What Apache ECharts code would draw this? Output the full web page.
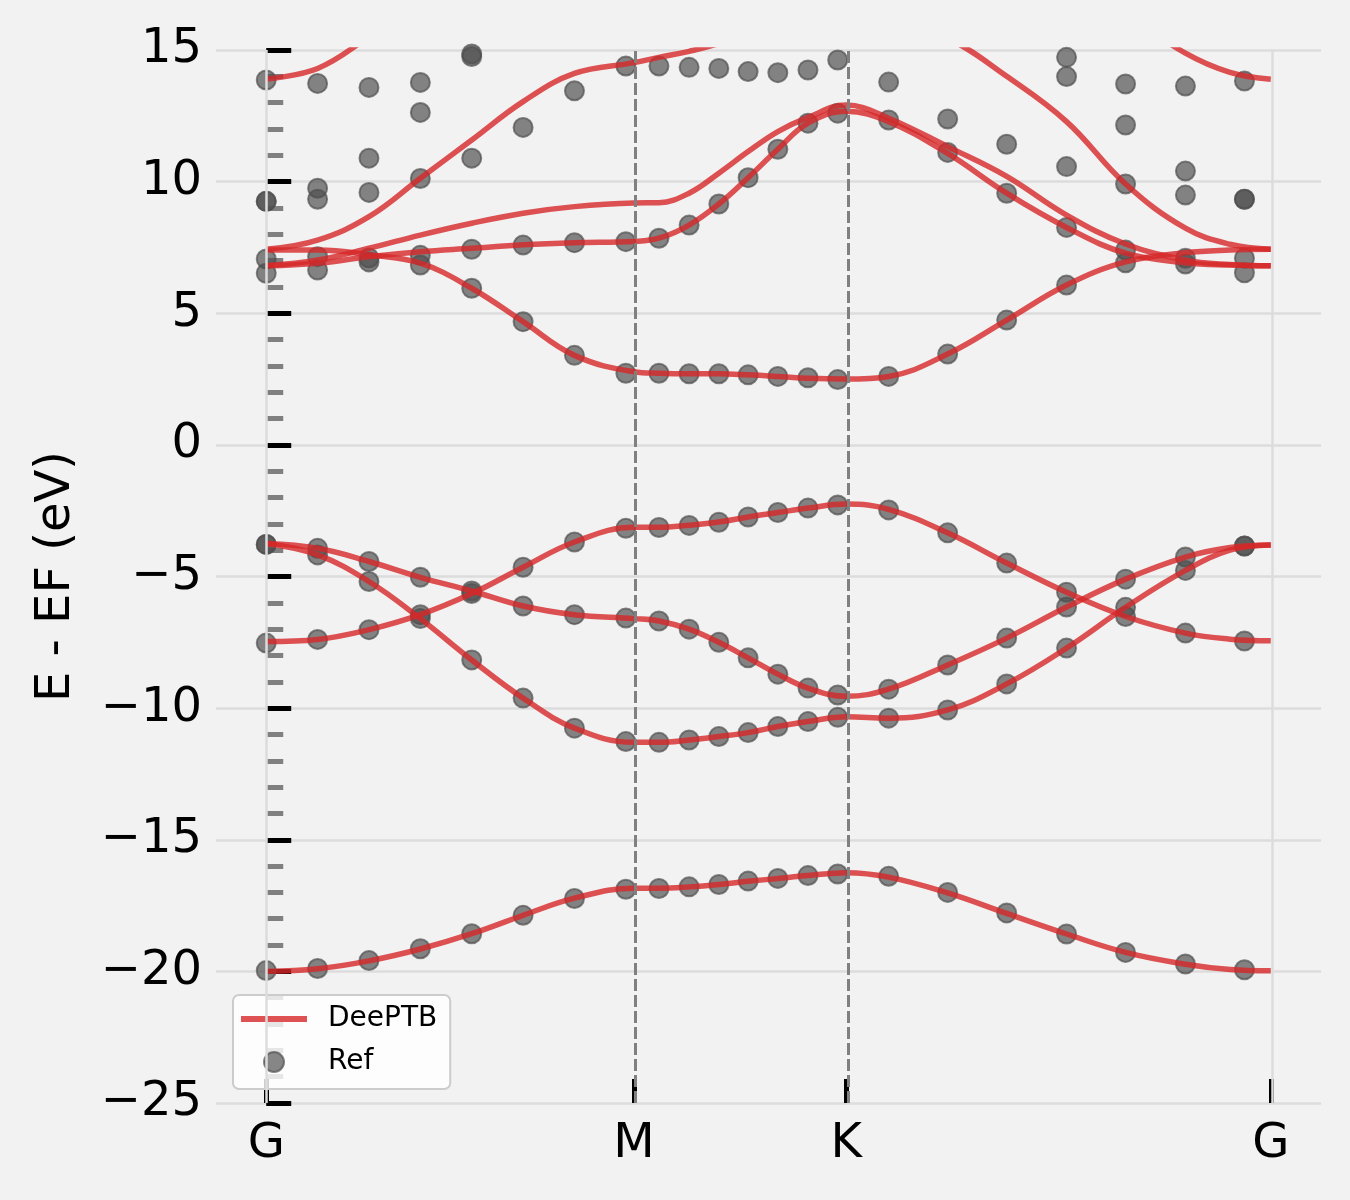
<!DOCTYPE html>
<html>
<head>
<meta charset="utf-8">
<title>Band structure</title>
<script src="https://cdn.jsdelivr.net/npm/echarts@6/dist/echarts.min.js"></script>
<style>
  html, body { margin: 0; padding: 0; background: #f2f2f2; }
  #myChart { width: 1350px; height: 1200px; }
</style>
</head>
<body>
<div id="myChart"></div>
<script>
// high symmetry points of the k path
const kTicks = [0, 0.866, 1.366, 2.366];
const kLabels = ['G', 'M', 'K', 'G'];

// k positions where the DeePTB curves were read
const lineK = [0, 0.121, 0.242, 0.363, 0.484, 0.605, 0.726, 0.866, 0.925, 0.996, 1.066, 1.135,
  1.205, 1.276, 1.366, 1.466, 1.605, 1.744, 1.885, 2.024, 2.165, 2.27, 2.366];

// DeePTB bands (eV)
const band1 = [-20.0, -19.9, -19.6, -19.15, -18.57, -17.87, -17.22, -16.84, -16.84, -16.79, -16.7, -16.58,
  -16.47, -16.36, -16.25, -16.42, -17.02, -17.8, -18.58, -19.28, -19.73, -19.93, -19.98];
const band2 = [-7.47, -7.39, -7.02, -6.45, -5.65, -4.65, -3.69, -3.13, -3.13, -3.05, -2.93, -2.74,
  -2.57, -2.4, -2.25, -2.45, -3.34, -4.49, -5.6, -6.52, -7.15, -7.38, -7.44];
const band3 = [-3.75, -3.93, -4.43, -5.03, -5.55, -6.12, -6.45, -6.6, -6.69, -7.0, -7.5, -8.09,
  -8.71, -9.24, -9.55, -9.28, -8.36, -7.34, -6.16, -5.1, -4.26, -3.9, -3.8];
const band4 = [-3.75, -4.18, -5.19, -6.6, -8.17, -9.62, -10.76, -11.3, -11.3, -11.21, -11.08, -10.93,
  -10.7, -10.51, -10.33, -10.38, -10.07, -9.08, -7.72, -6.17, -4.77, -4.0, -3.8];
const band5 = [7.4, 7.4, 7.22, 6.9, 5.95, 4.68, 3.4, 2.78, 2.72, 2.7, 2.7, 2.66,
  2.6, 2.53, 2.5, 2.6, 3.45, 4.74, 6.07, 6.95, 7.3, 7.4, 7.43];
const band6 = [6.8, 6.9, 7.15, 7.34, 7.47, 7.6, 7.68, 7.73, 7.85, 8.35, 9.15, 10.15,
  11.23, 12.22, 12.67, 12.28, 11.07, 9.56, 8.26, 7.28, 6.92, 6.83, 6.8];
const band7 = [6.8, 7.02, 7.47, 7.97, 8.42, 8.8, 9.05, 9.19, 9.2, 9.56, 10.32, 11.14,
  11.9, 12.44, 12.91, 12.41, 11.33, 10.2, 8.73, 7.63, 7.02, 6.85, 6.8];
const band8 = [7.43, 7.78, 8.67, 10.13, 11.58, 13.04, 14.11, 14.52, 14.72, 14.95, 15.25, 15.7,
  16.0, 16.2, 16.3, 16.2, 15.45, 14.0, 12.28, 9.91, 8.23, 7.62, 7.43];
const band9 = [13.9, 14.3, 15.5, 16.8, null, null, null, null, null, null, null, null,
  null, null, null, null, null, null, null, null, null, null, null];
const band10 = [null, null, null, null, null, null, null, null, null, null, null, null,
  null, null, null, null, null, null, null, 16.4, 14.88, 14.15, 13.89];

// k positions of the reference points
const refK = [0, 0.121, 0.242, 0.363, 0.484, 0.605, 0.726, 0.847, 0.925, 0.996, 1.066,
  1.135, 1.205, 1.276, 1.346, 1.466, 1.605, 1.744, 1.885, 2.024, 2.165, 2.304];

// reference eigenvalues (eV), one row per band, null = off the chart
const ref1 = [-19.97, -19.89, -19.59, -19.14, -18.57, -17.87, -17.23, -16.88, -16.85, -16.79, -16.7,
  -16.57, -16.47, -16.36, -16.3, -16.39, -17.0, -17.78, -18.58, -19.28, -19.72, -19.94];
const ref2 = [-7.53, -7.39, -7.02, -6.6, -8.17, -9.62, -10.76, -11.27, -11.3, -11.21, -11.08,
  -10.93, -10.7, -10.51, -10.35, -10.38, -10.07, -9.08, -7.72, -6.52, -7.15, -7.45];
const ref3 = [-3.78, -4.18, -5.19, -6.45, -5.65, -6.12, -6.45, -6.58, -6.69, -7.0, -7.5,
  -8.09, -8.71, -9.24, -9.5, -9.28, -8.36, -7.34, -6.16, -6.17, -4.77, -3.84];
const ref4 = [-3.78, -3.93, -4.43, -5.03, -5.55, -4.65, -3.69, -3.17, -3.14, -3.06, -2.94,
  -2.74, -2.57, -2.4, -2.28, -2.47, -3.34, -4.49, -5.6, -5.1, -4.26, -3.84];
const ref5 = [6.52, 6.64, 6.95, 6.83, 5.95, 4.68, 3.4, 2.72, 2.72, 2.7, 2.7,
  2.66, 2.6, 2.55, 2.48, 2.6, 3.45, 4.74, 6.07, 6.92, 6.87, 6.54];
const ref6 = [7.06, 7.15, 7.1, 7.2, 7.43, 7.59, 7.68, 7.72, 7.85, 8.35, 9.15,
  10.15, 11.23, 12.22, 12.6, 12.34, 11.11, 9.56, 8.26, 7.4, 7.09, 7.09];
const ref7 = [9.25, 9.33, 9.59, 10.12, 10.89, 12.06, 13.45, 14.39, 14.39, 14.34, 14.3,
  14.18, 14.14, 14.24, 14.62, 13.78, 12.38, 11.42, 10.57, 9.91, 9.49, 9.33];
const ref8 = [9.25, 9.75, 10.89, 12.63, 14.75, null, null, null, null, null, null,
  null, null, null, null, null, null, null, 13.99, 12.15, 10.4, 9.33];
const ref9 = [13.86, 13.73, 13.58, 13.77, 14.85, null, null, null, null, null, null,
  null, null, null, null, null, null, null, 14.72, 13.71, 13.63, 13.82];

const bands = [band1, band2, band3, band4, band5, band6, band7, band8, band9, band10];
const refs = [ref1, ref2, ref3, ref4, ref5, ref6, ref7, ref8, ref9];

const FONT = 'DejaVu Sans';
const RED = 'rgba(214,39,40,0.8)';
const GREY = 'rgba(78,78,78,0.85)';

function minusSign(v) {
  return String(v).replace('-', '\u2212');
}

function kName(v) {
  for (let i = 0; i < kTicks.length; i++) {
    if (Math.abs(kTicks[i] - v) < 1e-6) return kLabels[i];
  }
  return '';
}

let series = [];

// gridlines at G (behind everything)
series.push({
  type: 'line',
  data: [],
  z: 0,
  silent: true,
  markLine: {
    symbol: 'none',
    silent: true,
    label: { show: false },
    lineStyle: { color: '#dcdcdc', width: 2.5, type: 'solid' },
    data: [{ xAxis: kTicks[0] }, { xAxis: kTicks[3] }]
  }
});

// reference points
let refData = [];
refs.forEach(row => {
  row.forEach((e, i) => {
    if (e !== null) refData.push([refK[i], e]);
  });
});
series.push({
  name: 'Ref',
  type: 'scatter',
  data: refData,
  symbol: 'circle',
  symbolSize: 19,
  z: 2,
  itemStyle: { color: GREY, borderColor: GREY, borderWidth: 2 }
});

// DeePTB curves
bands.forEach(b => {
  series.push({
    name: 'DeePTB',
    type: 'line',
    data: lineK.map((k, i) => [k, b[i]]),
    smooth: 0.4,
    symbol: 'none',
    showSymbol: false,
    connectNulls: false,
    clip: true,
    z: 3,
    itemStyle: { color: RED },
    lineStyle: { color: RED, width: 5.5 }
  });
});

// dashed lines at M and K
series.push({
  type: 'line',
  data: [],
  z: 5,
  silent: true,
  markLine: {
    symbol: 'none',
    silent: true,
    label: { show: false },
    lineStyle: { color: '#808080', width: 3, type: [12, 4] },
    data: [{ xAxis: kTicks[1] }, { xAxis: kTicks[2] }]
  }
});

let myChart = echarts.init(document.getElementById('myChart'));
myChart.setOption({
  backgroundColor: '#f2f2f2',
  animation: false,
  textStyle: { fontFamily: FONT },
  grid: { left: 216, right: 29, top: 50, bottom: 97 },
  legend: {
    orient: 'vertical',
    left: 233,
    top: 995,
    padding: [10, 13, 13, 8],
    itemGap: 15,
    itemWidth: 66,
    itemHeight: 20,
    backgroundColor: 'rgba(255,255,255,0.8)',
    borderColor: '#cccccc',
    borderWidth: 2,
    borderRadius: 6,
    textStyle: { fontSize: 28, color: '#000', fontFamily: FONT, padding: [0, 0, 0, 16] },
    data: [
      { name: 'DeePTB', icon: 'path://M0,0 L66,0 L66,6 L0,6 Z', itemStyle: { color: RED } },
      { name: 'Ref', icon: 'circle' }
    ]
  },
  xAxis: {
    type: 'value',
    min: -0.1183,
    max: 2.4843,
    axisLine: { show: false, onZero: false },
    splitLine: { show: false },
    axisTick: {
      show: true,
      inside: true,
      length: 24,
      customValues: kTicks,
      lineStyle: { color: '#000', width: 5 }
    },
    axisLabel: {
      customValues: kTicks,
      formatter: kName,
      fontSize: 48,
      color: '#000',
      fontFamily: FONT,
      margin: 18
    }
  },
  yAxis: {
    type: 'value',
    min: -25,
    max: 15,
    interval: 5,
    name: 'E - EF (eV)',
    nameLocation: 'middle',
    nameGap: 135,
    nameTextStyle: { fontSize: 48, color: '#000', fontFamily: FONT },
    axisLine: { show: false },
    axisTick: { show: true, inside: true, length: 25, lineStyle: { color: '#000', width: 5 } },
    minorTick: { show: true, splitNumber: 5, length: 17, lineStyle: { color: '#808080', width: 5 } },
    splitLine: { show: true, lineStyle: { color: '#dcdcdc', width: 2.5 } },
    axisLabel: { fontSize: 48, color: '#000', fontFamily: FONT, margin: 14, formatter: minusSign }
  },
  series: series
});
</script>
</body>
</html>
